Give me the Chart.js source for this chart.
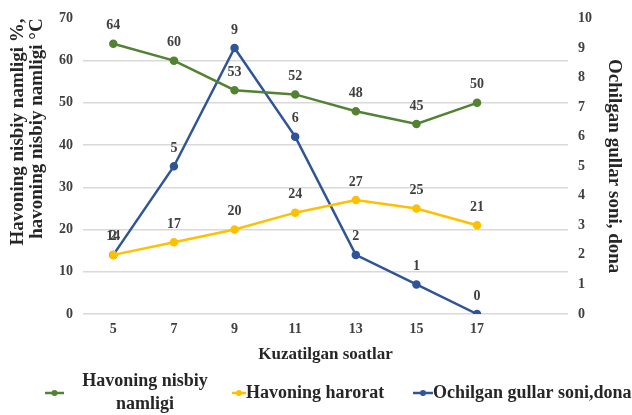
<!DOCTYPE html>
<html lang="uz">
<head>
<meta charset="UTF-8">
<title>Havo namligi va gullar</title>
<style>
    html, body { margin: 0; padding: 0; background: #ffffff; }
    .chart-box { position: relative; width: 632px; height: 415px; }
</style>
</head>
<body>
<div class="chart-box">
    <canvas id="gullarChart"></canvas>
</div>
<script src="https://cdn.jsdelivr.net/npm/chart.js"></script>
<script>
    // kuzatilgan soatlar (oxirgisi bo'sh joy)
    const soatlar = ['5', '7', '9', '11', '13', '15', '17', ''];
    const namlik = [64, 60, 53, 52, 48, 45, 50, null];
    const harorat = [14, 17, 20, 24, 27, 25, 21, null];
    const gullar = [2, 5, 9, 6, 2, 1, 0, null];

    const FONT = "'Liberation Serif', 'Times New Roman', serif";
    const TXT = '#404040';

    // value labels above points
    const valueLabels = {
        id: 'valueLabels',
        afterDatasetsDraw(chart) {
            const ctx = chart.ctx;
            ctx.save();
            ctx.font = 'bold 14px ' + FONT;
            ctx.fillStyle = TXT;
            ctx.textAlign = 'center';
            ctx.textBaseline = 'middle';
            chart.data.datasets.forEach((ds, i) => {
                chart.getDatasetMeta(i).data.forEach((pt, j) => {
                    if (ds.data[j] == null) return;
                    ctx.fillText(ds.data[j], pt.x, pt.y - 18);
                });
            });
            ctx.restore();
        }
    };

    // legend at the bottom, drawn by hand
    const bottomLegend = {
        id: 'bottomLegend',
        afterDraw(chart) {
            const ctx = chart.ctx;
            const items = [
                { lines: ['Havoning nisbiy', 'namligi'], color: '#548235', x1: 45, x2: 64, tx: 145, align: 'center' },
                { lines: ['Havoning harorat'], color: '#FFC000', x1: 232, x2: 246, tx: 246, align: 'left' },
                { lines: ['Ochilgan gullar soni,dona'], color: '#2F5597', x1: 413, x2: 433, tx: 433, align: 'left' }
            ];
            const y = 393;
            ctx.save();
            ctx.font = 'bold 18px ' + FONT;
            ctx.textBaseline = 'middle';
            items.forEach(it => {
                ctx.strokeStyle = it.color;
                ctx.fillStyle = it.color;
                ctx.lineWidth = 2.5;
                ctx.beginPath();
                ctx.moveTo(it.x1, y);
                ctx.lineTo(it.x2, y);
                ctx.stroke();
                ctx.beginPath();
                ctx.arc((it.x1 + it.x2) / 2, y, 3, 0, Math.PI * 2);
                ctx.fill();
                ctx.fillStyle = '#262626';
                ctx.textAlign = it.align;
                if (it.lines.length === 1) {
                    ctx.fillText(it.lines[0], it.tx, y);
                } else {
                    ctx.fillText(it.lines[0], it.tx, y - 12);
                    ctx.fillText(it.lines[1], it.tx, y + 11);
                }
            });
            ctx.restore();
        }
    };

    const ctx = document.getElementById('gullarChart').getContext('2d');
    new Chart(ctx, {
        type: 'line',
        data: {
            labels: soatlar,
            datasets: [
                {
                    label: 'Havoning nisbiy namligi',
                    data: namlik,
                    borderColor: '#548235',
                    backgroundColor: '#548235',
                    borderWidth: 2.5,
                    pointRadius: 3,
                    yAxisID: 'y'
                },
                {
                    label: 'Havoning harorat',
                    data: harorat,
                    borderColor: '#FFC000',
                    backgroundColor: '#FFC000',
                    borderWidth: 2.5,
                    pointRadius: 3,
                    yAxisID: 'y'
                },
                {
                    label: 'Ochilgan gullar soni,dona',
                    data: gullar,
                    borderColor: '#2F5597',
                    backgroundColor: '#2F5597',
                    borderWidth: 2.5,
                    pointRadius: 3,
                    yAxisID: 'y1'
                }
            ]
        },
        options: {
            responsive: true,
            maintainAspectRatio: false,
            animation: false,
            layout: { padding: { left: 0, right: 0, top: 12, bottom: 50 } },
            plugins: {
                legend: { display: false },
                tooltip: { enabled: false }
            },
            scales: {
                x: {
                    offset: true,
                    grid: { display: false, offset: true, drawTicks: false },
                    border: { display: false },
                    ticks: { color: TXT, font: { family: FONT, size: 14, weight: 'bold' }, padding: 7 },
                    title: {
                        display: true,
                        text: 'Kuzatilgan soatlar',
                        color: '#262626',
                        font: { family: FONT, size: 17, weight: 'bold' },
                        padding: { top: 0, bottom: 0 }
                    },
                    afterFit: s => { s.height = 51; }
                },
                y: {
                    position: 'left',
                    min: 0,
                    max: 70,
                    ticks: { stepSize: 10, color: TXT, font: { family: FONT, size: 14, weight: 'bold' }, padding: 10 },
                    grid: {
                        color: ctx => ctx.tick && ctx.tick.value === 70 ? 'rgba(0,0,0,0)' : '#d9d9d9',
                        lineWidth: 1.5,
                        drawTicks: false
                    },
                    border: { display: false },
                    title: {
                        display: true,
                        align: 'end',
                        text: ['Havoning nisbiy namligi %,', 'havoning nisbiy namligi \u00B0C'],
                        color: '#262626',
                        font: { family: FONT, size: 19, weight: 'bold', lineHeight: 1.0 },
                        padding: { top: 9, bottom: 0 }
                    },
                    afterFit: s => { s.width = 83; }
                },
                y1: {
                    position: 'right',
                    min: 0,
                    max: 10,
                    ticks: { stepSize: 1, color: TXT, font: { family: FONT, size: 14, weight: 'bold' }, padding: 10 },
                    grid: { display: false, drawTicks: false },
                    border: { display: false },
                    title: {
                        display: true,
                        text: 'Ochilgan gullar soni, dona',
                        color: '#262626',
                        font: { family: FONT, size: 19, weight: 'bold' },
                        padding: { top: 7, bottom: 0 }
                    },
                    afterFit: s => { s.width = 64; }
                }
            }
        },
        plugins: [valueLabels, bottomLegend]
    });
</script>
</body>
</html>
